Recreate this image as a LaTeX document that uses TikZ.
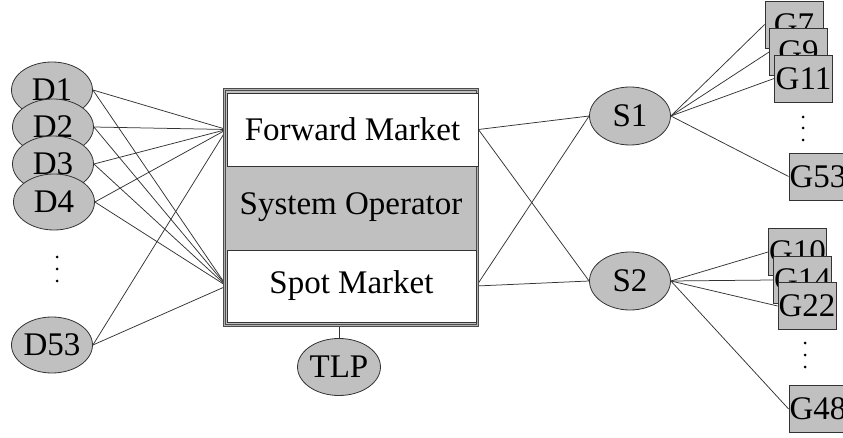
\documentclass[tikz,border=0pt]{standalone}
\usepackage{fontspec}
\setmainfont{Liberation Serif}
\usetikzlibrary{shapes.geometric,backgrounds}
\definecolor{fillgray}{HTML}{C0C0C0}
\definecolor{edgegray}{HTML}{333333}
\tikzset{
  txt/.style={font=\fontsize{33}{33}\selectfont, text=black},
  ell/.style={ellipse, draw=edgegray, fill=fillgray, line width=0.8pt, inner sep=0pt, txt},
  dnode/.style={ell, minimum width=81pt, minimum height=56pt},
  snode/.style={ell, minimum width=81pt, minimum height=58pt},
  gbox/.style={rectangle, draw=edgegray, fill=fillgray, line width=0.8pt, inner sep=0pt, minimum width=58pt, minimum height=47pt, txt},
  mbox/.style={rectangle, draw=edgegray, fill=white, line width=0.8pt, inner sep=0pt, txt},
  link/.style={draw=edgegray, line width=0.75pt},
  dotc/.style={fill=black},
}
\begin{document}
\begin{tikzpicture}[x=1pt,y=-1pt]
\useasboundingbox (0,0) rectangle (843,438);
% system operator frame
\node[rectangle, draw=black!70, double=black!30, double distance=1.6pt, line width=0.8pt, fill=fillgray, minimum width=252.8pt, minimum height=235.8pt, inner sep=0pt, txt] (so) at (351,207.5) {System Operator};
\node[mbox, minimum width=251pt, minimum height=73pt] (fm) at (352.5,129.5) {Forward Market};
\node[mbox, minimum width=249pt, minimum height=72pt] (sm) at (351.5,286) {Spot Market};
\node[ell, minimum width=82pt, minimum height=57pt] (tlp) at (339,367) {TLP};
% demand nodes
\node[dnode] (d1) at (52,90) {D1};
\node[dnode] (d2) at (53,127) {D2};
\node[dnode] (d3) at (53,164) {D3};
\node[dnode] (d4) at (54,202) {D4};
\node[dnode] (d53) at (52,345) {D53};
% suppliers
\node[snode] (s1) at (630,116) {S1};
\node[snode] (s2) at (630,281) {S2};
% generators
\node[gbox] (g7) at (794,24.5) {G7};
\node[gbox] (g9) at (798.5,52) {G9};
\node[gbox] (g11) at (803.5,78.5) {G11};
\node[gbox] (g53) at (818,176.5) {G53};
\node[gbox] (g10) at (797.5,252) {G10};
\node[gbox] (g14) at (802.5,280) {G14};
\node[gbox] (g22) at (807,306) {G22};
\node[gbox] (g48) at (818,409) {G48};
% dots
\foreach \y in {257,269,281} \fill[dotc] (57,\y) circle (1.5pt);
\foreach \y in {117,128,140} \fill[dotc] (803,\y) circle (1.5pt);
\foreach \y in {343,355,367} \fill[dotc] (805,\y) circle (1.5pt);
\begin{scope}[on background layer]
\foreach \d in {d1,d2,d3,d4,d53} {
  \draw[link] (\d.east) -- (fm.west);
  \draw[link] (\d.east) -- (sm.west);
}
\draw[link] (fm.east) -- (s1.west);
\draw[link] (fm.east) -- (s2.west);
\draw[link] (sm.east) -- (s1.west);
\draw[link] (sm.east) -- (s2.west);
\foreach \g in {g7,g9,g11,g53} \draw[link] (s1.east) -- (\g.west);
\foreach \g in {g10,g14,g22,g48} \draw[link] (s2.east) -- (\g.west);
\draw[link] (tlp.north) -- (tlp.north |- so.south);
\end{scope}
\end{tikzpicture}
\end{document}
